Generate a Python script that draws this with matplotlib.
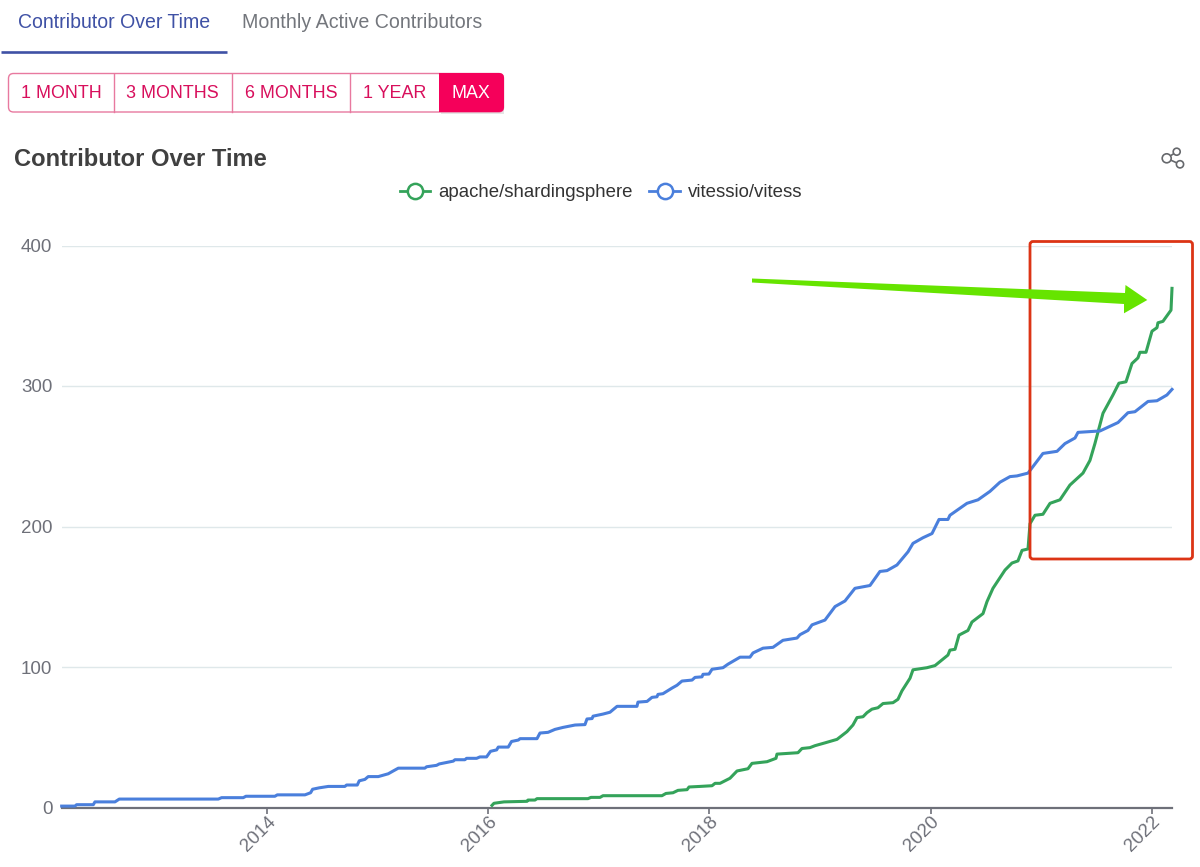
import matplotlib
matplotlib.use("Agg")
import matplotlib.pyplot as plt
from matplotlib.lines import Line2D
from matplotlib.patches import Circle, FancyBboxPatch, Polygon, Rectangle

plt.rcParams["font.family"] = ["Liberation Sans", "DejaVu Sans"]

# values (decimal year, contributors)
vitess_years = [2012.143, 2012.263, 2012.278, 2012.429, 2012.444, 2012.625, 2012.664, 2013.559, 2013.589,
                2013.785, 2013.809, 2014.071, 2014.093, 2014.343, 2014.394, 2014.412, 2014.472, 2014.554,
                2014.704, 2014.719, 2014.816, 2014.834, 2014.885, 2014.915, 2015.006, 2015.096, 2015.141,
                2015.187, 2015.427, 2015.443, 2015.533, 2015.557, 2015.684, 2015.699, 2015.789, 2015.804,
                2015.895, 2015.925, 2015.985, 2016.021, 2016.076, 2016.091, 2016.181, 2016.211, 2016.272,
                2016.288, 2016.441, 2016.468, 2016.541, 2016.604, 2016.676, 2016.785, 2016.875, 2016.893,
                2016.939, 2016.948, 2017.038, 2017.101, 2017.165, 2017.345, 2017.354, 2017.436, 2017.481,
                2017.526, 2017.535, 2017.580, 2017.662, 2017.707, 2017.752, 2017.843, 2017.870, 2017.933,
                2017.942, 2017.996, 2018.024, 2018.123,
                2018.168, 2018.277, 2018.367, 2018.394, 2018.485, 2018.575, 2018.665, 2018.792, 2018.819,
                2018.891, 2018.928, 2019.045, 2019.136, 2019.226, 2019.316, 2019.452, 2019.542, 2019.606,
                2019.696, 2019.796, 2019.841, 2019.931, 2020.013, 2020.076, 2020.157, 2020.175, 2020.329,
                2020.429, 2020.537, 2020.627, 2020.718, 2020.781, 2020.881, 2021.016, 2021.143, 2021.215,
                2021.306, 2021.333, 2021.532, 2021.695, 2021.785, 2021.848, 2021.966, 2022.047, 2022.137,
                2022.183]
vitess_counts = [1, 1, 2, 2, 4, 4, 6, 6, 7,
                 7, 8, 8, 9, 9, 10.5, 13, 14, 15,
                 15, 16, 16, 19, 20, 22, 22, 24, 26,
                 28, 28, 29, 30, 31, 33, 34, 34, 35,
                 35, 36, 36, 40, 41, 43, 43, 47, 48,
                 49, 49, 53, 53.5, 55.6, 57, 58.7, 59, 63,
                 63.3, 65, 66.5, 67.8, 72, 72, 75, 75.5, 78.4,
                 78.8, 80.5, 81, 85, 87, 90, 90.7, 92.6, 93,
                 94.8, 95, 98.4, 99.5,
                 102, 107, 107, 110, 113.4, 114, 119, 120.6, 123,
                 126, 130, 133.4, 143, 147, 156, 158, 168, 168.6,
                 172.6, 182, 188, 192, 195, 205, 205, 208, 216.5,
                 219, 225, 231.5, 235.5, 236, 238, 252, 253.5, 259,
                 263, 267, 268, 274, 281, 281.7, 289, 289.5, 293.6,
                 297.6]

sharding_years = [2016.034, 2016.052, 2016.143, 2016.351, 2016.360, 2016.423, 2016.441, 2016.902, 2016.929,
                  2017.011, 2017.038, 2017.571, 2017.607, 2017.671, 2017.716, 2017.798, 2017.816, 2017.915,
                  2018.024, 2018.051, 2018.096, 2018.186, 2018.250,
                  2018.349, 2018.385, 2018.521, 2018.602, 2018.611, 2018.801, 2018.837, 2018.909, 2018.955,
                  2019.045, 2019.154, 2019.244, 2019.298, 2019.335, 2019.389, 2019.425, 2019.470, 2019.524,
                  2019.570, 2019.660, 2019.705, 2019.741, 2019.814, 2019.841, 2019.967, 2020.040, 2020.157,
                  2020.175, 2020.221, 2020.257, 2020.338, 2020.374, 2020.474, 2020.510, 2020.564, 2020.673,
                  2020.736, 2020.790, 2020.827, 2020.881, 2020.899, 2020.944, 2021.016, 2021.080, 2021.170,
                  2021.260, 2021.378, 2021.441, 2021.486, 2021.559, 2021.649, 2021.703, 2021.767, 2021.821,
                  2021.875, 2021.893, 2021.948, 2022.002, 2022.047, 2022.056, 2022.101, 2022.174, 2022.183]
sharding_counts = [1.5, 3, 4, 4.4, 5.3, 5.3, 6.3, 6.3, 7.2,
                   7.2, 8.4, 8.4, 10, 10.5, 12.2, 12.7, 14.6, 15,
                   15.5, 17.2, 17.2, 20.8, 26,
                   27.6, 31.4, 32.6, 35, 38, 39, 42, 42.6, 44,
                   46, 48.5, 54, 58.7, 64, 64.6, 67.5, 70, 71,
                   74, 74.6, 77, 83, 92, 98, 99.5, 101, 108.5,
                   112, 112.6, 122.7, 126, 132, 138, 146.5, 156, 169,
                   174, 175.5, 183, 184, 202, 208, 208.7, 216.5, 219,
                   229.5, 238, 247, 259, 280.6, 293.6, 302, 303, 316,
                   320, 324, 324, 339, 341.5, 345, 346, 354, 369.5]

year_ticks = [2014, 2016, 2018, 2020, 2022]
count_ticks = [0, 100, 200, 300, 400]
range_labels = ["1 MONTH", "3 MONTHS", "6 MONTHS", "1 YEAR", "MAX"]
tab_labels = ["Contributor Over Time", "Monthly Active Contributors"]
series_names = ["apache/shardingsphere", "vitessio/vitess"]

GREEN = "#34a35a"
BLUE = "#4a7fdc"
GREY = "#6e7079"

W, H = 1200, 867
fig = plt.figure(figsize=(W / 100, H / 100), dpi=100, facecolor="white")

# plot area: x 62..1172, y 245.5..807.5 px
ax = fig.add_axes([62 / W, 1 - 807.5 / H, 1110 / W, 562 / H])
ax.plot(sharding_years, sharding_counts, color=GREEN, lw=2.2, solid_joinstyle="round", zorder=3, clip_on=False)
ax.plot(vitess_years, vitess_counts, color=BLUE, lw=2.2, solid_joinstyle="round", zorder=4, clip_on=False)
ax.set_xlim(2012.146, 2022.183)
ax.set_ylim(0, 400)
ax.set_xticks(year_ticks)
ax.set_xticklabels([str(y) for y in year_ticks], rotation=45, ha="right", rotation_mode="anchor",
                   fontsize=13.5, color=GREY)
ax.set_yticks(count_ticks)
ax.tick_params(axis="y", length=0, pad=7, labelsize=13.5, labelcolor=GREY)
ax.tick_params(axis="x", length=4, width=1.2, color=GREY, pad=0)
ax.grid(axis="y", color="#dfe8ea", lw=1)
ax.set_axisbelow(True)
for side in ["top", "right", "left"]:
    ax.spines[side].set_visible(False)
ax.spines["bottom"].set_color(GREY)
ax.spines["bottom"].set_linewidth(1.6)

handles = [
    Line2D([], [], color=GREEN, lw=2, marker="o", ms=11, mfc="white", mec=GREEN, mew=1.8),
    Line2D([], [], color=BLUE, lw=2, marker="o", ms=11, mfc="white", mec=BLUE, mew=1.8),
]
fig.legend(handles, series_names, loc="center", bbox_to_anchor=(601 / W, 1 - 192.5 / H), ncols=2, frameon=False,
           fontsize=13.4, handlelength=1.65, handletextpad=0.42, columnspacing=0.9, labelcolor="#333333")

# page furniture and annotations in pixel coordinates
ov = fig.add_axes([0, 0, 1, 1], facecolor="none", zorder=5)
ov.set_xlim(0, W)
ov.set_ylim(H, 0)
ov.axis("off")

ov.text(18, 22, tab_labels[0], fontsize=14.05, color="#3f51a5", va="center")
ov.text(242, 22, tab_labels[1], fontsize=14.15, color="#73767c", va="center")
ov.plot([1, 227], [51.5, 51.5], color="#3f51a5", lw=1.9, solid_capstyle="butt")

# range buttons
PINK = "#d80f5c"
ov.add_patch(Rectangle((441, 75), 63, 39, fc="#000000", ec="none", alpha=0.10))
ov.add_patch(FancyBboxPatch((8.5, 73.5), 495, 38.5, boxstyle="round,pad=0,rounding_size=5", fc="white",
                            ec="#e8799f", lw=1))
ov.add_patch(FancyBboxPatch((439, 73), 65, 39, boxstyle="round,pad=0,rounding_size=5", fc="#f5005a", ec="none"))
ov.add_patch(Rectangle((439, 73), 8, 39, fc="#f5005a", ec="none"))
for x in [114, 232, 350]:
    ov.plot([x, x], [73.5, 112], color="#e8799f", lw=1)
for label, x in zip(range_labels, [61, 172.5, 291, 394.5, 471]):
    ov.text(x, 93.5, label, fontsize=12.9, ha="center", va="center", color="white" if label == "MAX" else PINK)

ov.text(14.5, 159, "Contributor Over Time", fontsize=17.1, fontweight="bold", color="#404040", va="center")

# share icon
for cx, cy, r in [(1176.7, 151.7, 3.5), (1166.7, 158.3, 4.5), (1180, 164.3, 3.6)]:
    ov.add_patch(Circle((cx, cy), r, fc="white", ec="#66686c", lw=1.2, zorder=3))
ov.plot([1176.7, 1166.7, 1180], [151.7, 158.3, 164.3], color="#66686c", lw=1.2, zorder=2)

# red box
ov.add_patch(FancyBboxPatch((1030, 241.5), 162.5, 317.5, boxstyle="round,pad=0,rounding_size=3", fc="none",
                            ec="#dc3415", lw=2))
# green arrow
ov.add_patch(Polygon([(752, 278.5), (1125, 293), (1125.5, 285), (1147.3, 300), (1124, 313.3), (1124, 304),
                      (752, 282.5)], closed=True, fc="#66e400", ec="none"))

fig.savefig("out.png", dpi=100)
